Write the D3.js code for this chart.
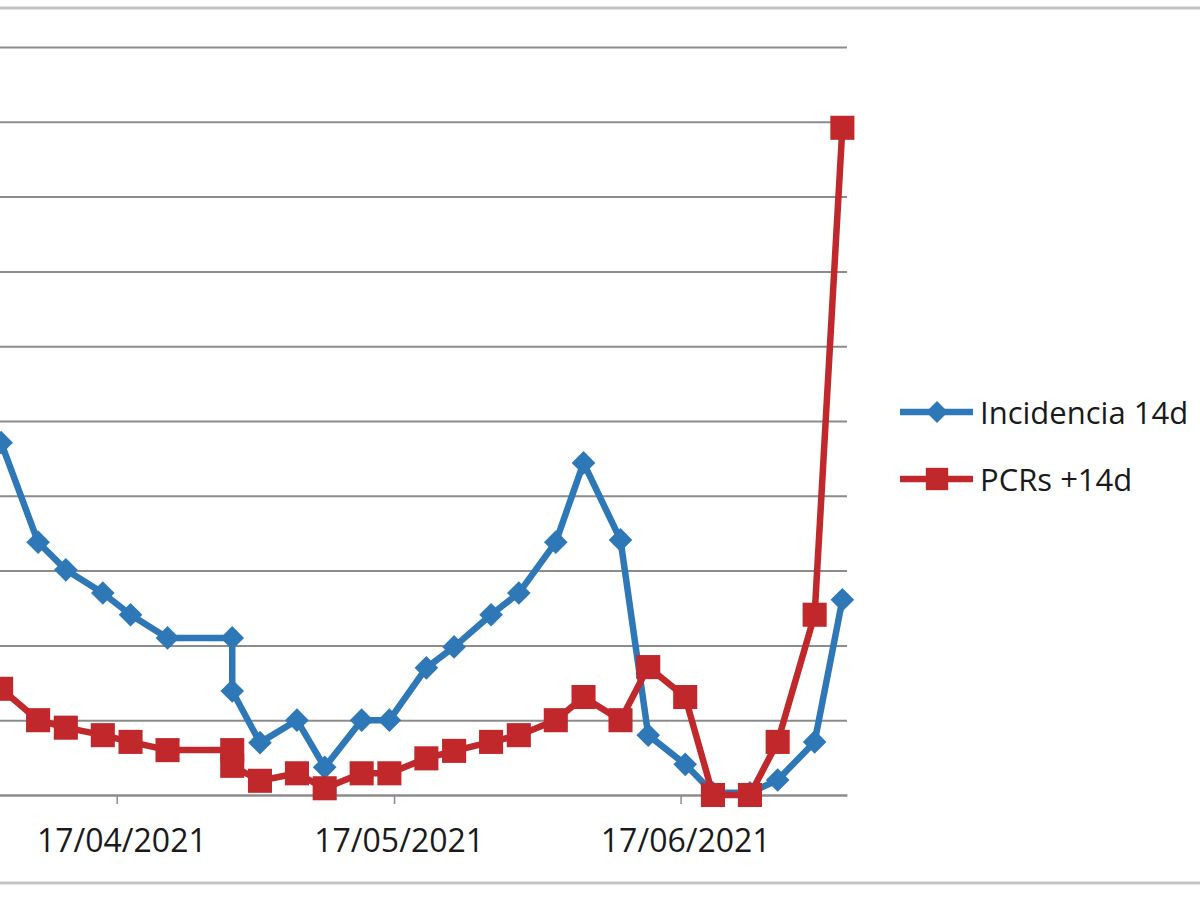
<!DOCTYPE html>
<html>
<head>
<meta charset="utf-8">
<script src="https://cdn.jsdelivr.net/npm/d3@7"></script>
<style>
  html, body { margin: 0; padding: 0; background: #fff; }
  svg { display: block; }
</style>
</head>
<body>
<svg id="chart" width="1200" height="900"></svg>
<script>
// ---- data ----
const dates = ["2021-04-04","2021-04-08","2021-04-11","2021-04-15","2021-04-18","2021-04-22",
  "2021-04-29","2021-04-29","2021-05-02","2021-05-06","2021-05-09","2021-05-13","2021-05-16",
  "2021-05-20","2021-05-23","2021-05-27","2021-05-30","2021-06-03","2021-06-06","2021-06-10",
  "2021-06-13","2021-06-17","2021-06-20","2021-06-24","2021-06-27","2021-07-01","2021-07-04"];
const incidencia = [47.1, 33.8, 30.1, 27.0, 24.1, 21.0, 21.0, 13.9, 7.0, 10.0, 3.7, 10.0, 10.0,
  17.0, 19.8, 24.1, 27.0, 33.8, 44.4, 34.1, 8.0, 4.1, 0.3, 0.3, 2.0, 7.1, 26.1];
const pcrs = [14.2, 10.0, 9.0, 8.0, 7.1, 6.0, 6.0, 3.9, 1.9, 2.9, 0.9, 2.9, 2.9,
  4.9, 5.9, 7.1, 8.0, 10.0, 13.1, 10.0, 17.1, 13.1, 0.0, 0.0, 7.1, 24.1, 89.2];
const seriesNames = ["Incidencia 14d", "PCRs +14d"];
const xTickDates = ["2021-04-17", "2021-05-17", "2021-06-17"];
const xTickLabels = ["17/04/2021", "17/05/2021", "17/06/2021"];
const yTicks = [0, 10, 20, 30, 40, 50, 60, 70, 80, 90, 100];
const xDomain = ["2021-04-04", "2021-07-05"];

// ---- setup ----
const parse = d3.utcParse("%Y-%m-%d");
const svg = d3.select("#chart");
const BLUE = "#2e78b8", RED = "#c0282b", GRID = "#8c8c8c", BORDER = "#c4c4c4";
const FONT = "'Open Sans', sans-serif";

const x = d3.scaleUtc().domain(xDomain.map(parse)).range([-3.5, 847]);
const y = d3.scaleLinear().domain([0, 100]).range([795, 47]);
const mid = d => d3.utcHour.offset(d, 12); // Excel centres points in the day slot

svg.append("rect").attr("width", 1200).attr("height", 900).attr("fill", "#fff");

// chart area border (top / bottom)
svg.append("line").attr("x1", 0).attr("x2", 1200).attr("y1", 8).attr("y2", 8)
  .attr("stroke", BORDER).attr("stroke-width", 3);
svg.append("line").attr("x1", 0).attr("x2", 1200).attr("y1", 883).attr("y2", 883)
  .attr("stroke", BORDER).attr("stroke-width", 3);

// gridlines via y axis
const yAxis = d3.axisLeft(y).tickValues(yTicks).tickSize(-(x.range()[1] - x.range()[0])).tickFormat("");
const gy = svg.append("g").attr("transform", `translate(${x.range()[0]},0)`).call(yAxis);
gy.select(".domain").remove();
gy.selectAll(".tick line").attr("stroke", GRID).attr("stroke-width", 2);

// x axis
const xAxis = d3.axisBottom(x).tickValues(xTickDates.map(parse)).tickSize(9).tickSizeOuter(0).tickFormat("");
const gx = svg.append("g").attr("transform", `translate(0,${y(0)})`).call(xAxis);
gx.select(".domain").attr("stroke", GRID).attr("stroke-width", 2);
gx.selectAll(".tick line").attr("stroke", GRID).attr("stroke-width", 1.5);
gx.selectAll(".tick").append("text")
  .attr("x", (d) => x(mid(d)) - x(d))
  .attr("y", 57)
  .attr("fill", "#1a1a1a")
  .attr("font-family", FONT)
  .attr("font-size", 32)
  .attr("text-anchor", "middle")
  .text((d, i) => xTickLabels[i]);

// series
const pts = (vals) => dates.map((d, i) => ({ x: x(mid(parse(d))), y: y(vals[i]) }));
const line = d3.line().x(d => d.x).y(d => d.y);

function drawSeries(vals, color, shape) {
  const p = pts(vals);
  const g = svg.append("g");
  g.append("path").attr("d", line(p)).attr("fill", "none")
    .attr("stroke", color).attr("stroke-width", 6.5).attr("stroke-linejoin", "round");
  const sym = shape === "diamond"
    ? d3.symbol().type(d3.symbolSquare).size(280)
    : d3.symbol().type(d3.symbolSquare).size(580);
  g.selectAll("path.m").data(p).join("path").attr("class", "m")
    .attr("d", sym)
    .attr("transform", d => `translate(${d.x},${d.y})` + (shape === "diamond" ? " rotate(45)" : ""))
    .attr("fill", color);
}
drawSeries(incidencia, BLUE, "diamond");
drawSeries(pcrs, RED, "square");

// legend
const legend = svg.append("g");
const legendItems = [
  { name: seriesNames[0], color: BLUE, shape: "diamond", y: 412 },
  { name: seriesNames[1], color: RED, shape: "square", y: 479 }
];
legendItems.forEach(it => {
  legend.append("line").attr("x1", 900).attr("x2", 973).attr("y1", it.y).attr("y2", it.y)
    .attr("stroke", it.color).attr("stroke-width", 6.5);
  const s = it.shape === "diamond" ? d3.symbol().type(d3.symbolSquare).size(240)
                                   : d3.symbol().type(d3.symbolSquare).size(500);
  legend.append("path").attr("d", s)
    .attr("transform", `translate(937,${it.y})` + (it.shape === "diamond" ? " rotate(45)" : ""))
    .attr("fill", it.color);
  legend.append("text").attr("x", 980).attr("y", it.y + 11.5)
    .attr("font-family", FONT).attr("font-size", 31).attr("fill", "#1a1a1a")
    .text(it.name);
});
</script>
</body>
</html>
